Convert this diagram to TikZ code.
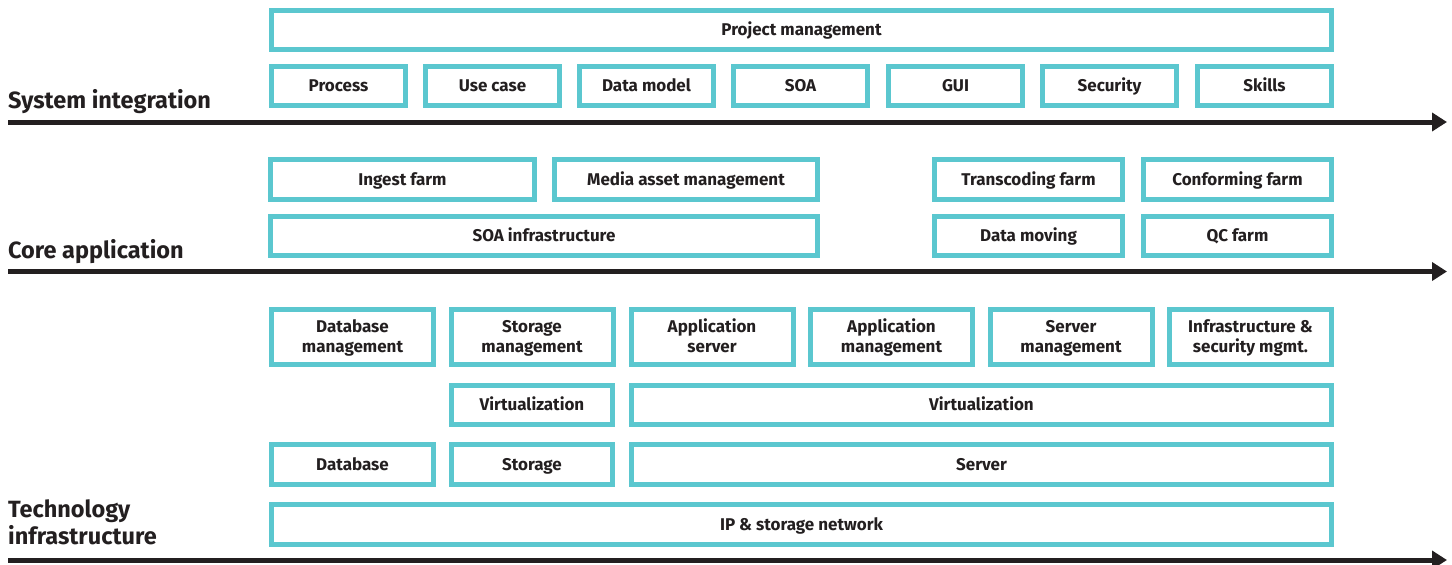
\documentclass[tikz,border=0pt]{standalone}
\usepackage{fontspec}
\setmainfont{Fira Sans}
\usetikzlibrary{arrows.meta}
\definecolor{teal}{HTML}{5BC7CF}
\definecolor{ink}{HTML}{231F20}
\tikzset{
  box/.style={draw=teal, line width=5pt, fill=white, inner sep=0pt, align=center,
    text=ink, font=\fontsize{17}{20}\selectfont\bfseries,
    text height=11.7pt, text depth=0pt},
  boxtwo/.style={box, text height=31.7pt, text depth=0pt},
  lbl/.style={inner sep=0pt, text=ink, font=\fontsize{23.5}{26.5}\selectfont\bfseries, align=left},
  axis/.style={draw=ink, line width=5pt, -{Triangle[length=15pt,width=18pt]}}
}
\begin{document}
\begin{tikzpicture}[x=1pt,y=-1pt]
\useasboundingbox (0,0) rectangle (1452,565);
% System integration
\node[box, minimum width=1060pt, minimum height=39pt] (pm) at (801.5,30) {Project management};
\foreach \n/\c/\t in {proc/338.5/Process, uc/492.5/Use case, dm/646.5/Data model, soa/800.5/SOA, gui/955.5/GUI, sec/1109.5/Security, sk/1264.5/Skills}
  \node[box, minimum width=134pt, minimum height=39pt] (\n) at (\c,86) {\t};
\node[lbl, anchor=base west] (l1) at (8,108) {System integration};
\coordinate (a1s) at (8,122); \coordinate (a1e) at (1447,122);
\draw[axis] (a1s) -- (a1e);
% Core application
\node[box, minimum width=264pt, minimum height=40pt] (ing) at (402.5,179.5) {Ingest farm};
\node[box, minimum width=263pt, minimum height=40pt] (mam) at (686,179.5) {Media asset management};
\node[box, minimum width=188pt, minimum height=40pt] (trc) at (1028.5,179.5) {Transcoding farm};
\node[box, minimum width=188pt, minimum height=40pt] (cnf) at (1237.5,179.5) {Conforming farm};
\node[box, minimum width=547pt, minimum height=39pt] (soai) at (544,236) {SOA infrastructure};
\node[box, minimum width=188pt, minimum height=39pt] (dmv) at (1028.5,236) {Data moving};
\node[box, minimum width=188pt, minimum height=39pt] (qc) at (1237.5,236) {QC farm};
\node[lbl, anchor=base west] (l2) at (8,258) {Core application};
\coordinate (a2s) at (8,271.5); \coordinate (a2e) at (1447,271.5);
\draw[axis] (a2s) -- (a2e);
% Technology infrastructure
\foreach \n/\c/\t in {dbm/352.5/{Database\\management}, stm/532/{Storage\\management}, aps/712/{Application\\server}, apm/891.5/{Application\\management}, svm/1071/{Server\\management}, ism/1250.5/{Infrastructure \&\\security mgmt.}}
  \node[boxtwo, minimum width=162pt, minimum height=55pt] (\n) at (\c,337) {\t};
\node[box, minimum width=161pt, minimum height=39pt] (v1) at (532,405) {Virtualization};
\node[box, minimum width=700pt, minimum height=39pt] (v2) at (981.5,405) {Virtualization};
\node[box, minimum width=162pt, minimum height=40pt] (db) at (352.5,464.5) {Database};
\node[box, minimum width=161pt, minimum height=40pt] (st) at (532,464.5) {Storage};
\node[box, minimum width=700pt, minimum height=40pt] (sv) at (981.5,464.5) {Server};
\node[box, minimum width=1060pt, minimum height=40pt] (ip) at (801.5,524.5) {IP \& storage network};
\node[lbl, anchor=base west] (l3) at (8,544) {Technology\\infrastructure};
\coordinate (a3s) at (8,560); \coordinate (a3e) at (1447,560);
\draw[axis] (a3s) -- (a3e);
\end{tikzpicture}
\end{document}
